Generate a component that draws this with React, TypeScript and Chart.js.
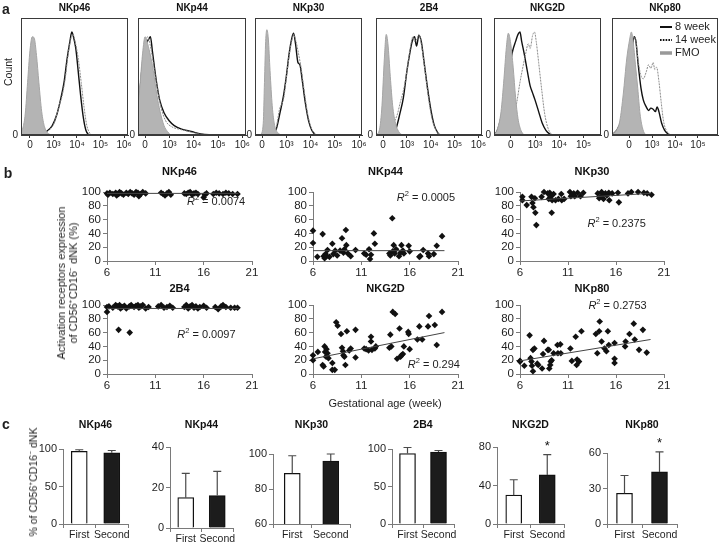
import React, { useEffect, useRef } from 'react';
import { Chart, registerables } from 'chart.js';

Chart.register(...registerables);

const FONT = "'Liberation Sans', Arial, sans-serif";
const TEXT = '#1e1e1e';
const AXIS = '#7a7a7a';

const markers = ['NKp46', 'NKp44', 'NKp30', '2B4', 'NKG2D', 'NKp80'];

// ---------------- a: flow histograms (x in display decades, y in % of mode)
const histTickLabels = ['0', '10³', '10⁴', '10⁵', '10⁶'];
const histLegendOrder = ['8 week', '14 week', 'FMO'];
const histXRange = [[-0.38, 4.17], [-0.29, 4.15], [-0.29, 4.12], [-0.3, 4.15], [-0.69, 3.72], [-0.74, 3.87]];

const fmoNKp46 = [[-0.38, 2], [-0.3, 6], [-0.2, 18], [-0.1, 45], [0, 72], [0.1, 84], [0.18, 83], [0.28, 68], [0.38, 45], [0.5, 20], [0.62, 7], [0.75, 2], [0.9, 0]];
const wk8NKp46 = [[0.5, 0], [0.7, 3], [0.95, 8], [1.15, 18], [1.3, 30], [1.45, 45], [1.58, 65], [1.7, 80], [1.78, 88], [1.85, 84], [1.95, 74], [2.05, 55], [2.15, 35], [2.27, 15], [2.38, 4], [2.5, 0]];
const wk14NKp46 = [[0.55, 0], [0.8, 4], [1.05, 11], [1.25, 26], [1.35, 32], [1.5, 48], [1.62, 68], [1.75, 83], [1.83, 86], [1.92, 80], [2.05, 66], [2.18, 45], [2.3, 24], [2.42, 8], [2.58, 0]];

const fmoNKp44 = [[-0.29, 25], [-0.2, 45], [-0.1, 70], [0, 84], [0.08, 80], [0.2, 70], [0.34, 55], [0.48, 35], [0.62, 20], [0.78, 8], [0.92, 3], [1.05, 0]];
const wk8NKp44 = [[-0.29, 20], [-0.2, 40], [-0.1, 62], [0.05, 78], [0.15, 82], [0.22, 84], [0.3, 72], [0.45, 48], [0.6, 30], [0.78, 19], [1.0, 12], [1.2, 8], [1.5, 5], [1.9, 3], [2.3, 1], [2.8, 0]];
const wk14NKp44 = [[-0.29, 22], [-0.15, 50], [0, 75], [0.1, 84], [0.2, 78], [0.35, 60], [0.5, 40], [0.65, 24], [0.85, 12], [1.1, 7], [1.4, 5], [1.8, 3], [2.2, 1], [2.7, 0]];

const fmoNKp30 = [[-0.05, 0], [0.05, 10], [0.1, 45], [0.15, 80], [0.2, 90], [0.26, 82], [0.33, 55], [0.42, 25], [0.52, 8], [0.65, 2], [0.8, 0]];
const wk8NKp30 = [[0.45, 0], [0.6, 6], [0.75, 20], [0.88, 33], [1.0, 50], [1.12, 70], [1.22, 82], [1.3, 87], [1.38, 78], [1.48, 62], [1.56, 60], [1.65, 48], [1.78, 28], [1.92, 12], [2.05, 4], [2.2, 0]];
const wk14NKp30 = [[0.45, 0], [0.6, 8], [0.72, 22], [0.8, 26], [0.9, 32], [1.0, 48], [1.12, 68], [1.22, 80], [1.3, 86], [1.4, 80], [1.5, 70], [1.62, 56], [1.75, 36], [1.9, 16], [2.05, 5], [2.25, 0]];

const fmo2B4 = [[-0.3, 0], [-0.15, 5], [-0.05, 25], [0.05, 65], [0.13, 86], [0.2, 78], [0.3, 50], [0.4, 25], [0.52, 10], [0.65, 3], [0.8, 0]];
const wk82B4 = [[0.4, 0], [0.55, 6], [0.7, 18], [0.85, 32], [1.0, 55], [1.12, 70], [1.22, 80], [1.32, 84], [1.4, 76], [1.5, 85], [1.6, 80], [1.72, 62], [1.85, 42], [2.0, 22], [2.15, 8], [2.35, 0]];
const wk142B4 = [[0.3, 0], [0.45, 10], [0.6, 18], [0.72, 28], [0.85, 38], [1.0, 55], [1.12, 72], [1.25, 84], [1.32, 80], [1.42, 82], [1.5, 86], [1.6, 78], [1.75, 56], [1.9, 32], [2.05, 14], [2.25, 3], [2.45, 0]];

const fmoNKG2D = [[-0.69, 0], [-0.55, 5], [-0.4, 20], [-0.28, 48], [-0.18, 75], [-0.1, 87], [0, 78], [0.1, 58], [0.2, 32], [0.3, 14], [0.42, 4], [0.55, 0]];
const wk8NKG2D = [[-0.69, 0], [-0.55, 4], [-0.4, 15], [-0.28, 28], [-0.15, 45], [-0.03, 60], [0.08, 72], [0.2, 80], [0.3, 86], [0.38, 88], [0.45, 80], [0.55, 70], [0.68, 55], [0.8, 42], [0.9, 36], [1.0, 30], [1.15, 20], [1.3, 10], [1.45, 4], [1.65, 0]];
const wk14NKG2D = [[-0.2, 0], [0, 6], [0.15, 18], [0.25, 28], [0.38, 45], [0.5, 58], [0.62, 70], [0.72, 78], [0.8, 74], [0.9, 85], [0.98, 88], [1.05, 80], [1.15, 62], [1.28, 38], [1.4, 18], [1.55, 5], [1.7, 0]];

const fmoNKp80 = [[-0.74, 0], [-0.55, 4], [-0.4, 12], [-0.25, 35], [-0.1, 65], [0.03, 82], [0.1, 88], [0.18, 80], [0.28, 60], [0.38, 40], [0.48, 18], [0.6, 5], [0.72, 0]];
const wk8NKp80 = [[-0.74, 0], [-0.5, 5], [-0.3, 15], [-0.15, 28], [0, 50], [0.12, 70], [0.22, 84], [0.3, 80], [0.4, 60], [0.52, 40], [0.62, 30], [0.75, 24], [0.85, 21], [0.95, 23], [1.05, 22], [1.15, 20], [1.22, 24], [1.3, 20], [1.42, 10], [1.55, 4], [1.75, 0]];
const wk14NKp80 = [[-0.6, 0], [-0.4, 6], [-0.2, 20], [-0.05, 45], [0.1, 72], [0.2, 84], [0.28, 82], [0.38, 66], [0.5, 52], [0.62, 48], [0.75, 54], [0.85, 60], [0.95, 57], [1.05, 62], [1.12, 56], [1.2, 58], [1.3, 46], [1.4, 28], [1.5, 12], [1.62, 4], [1.8, 0]];

const fmoCurves = [fmoNKp46, fmoNKp44, fmoNKp30, fmo2B4, fmoNKG2D, fmoNKp80];
const wk8Curves = [wk8NKp46, wk8NKp44, wk8NKp30, wk82B4, wk8NKG2D, wk8NKp80];
const wk14Curves = [wk14NKp46, wk14NKp44, wk14NKp30, wk142B4, wk14NKG2D, wk14NKp80];

// ---------------- b: expression vs gestational age ([week, %])
const scatterNKp46 = [[6.0, 98], [6.1, 96], [6.3, 99], [6.6, 97], [6.9, 99], [7.0, 95], [7.2, 97], [7.3, 100], [7.5, 98], [7.7, 96], [8.0, 99], [8.2, 97], [8.4, 100], [8.6, 98], [8.8, 96], [9.0, 100], [9.2, 99], [9.3, 94], [9.5, 97], [9.7, 100], [10.0, 98], [11.6, 99], [11.8, 97], [12.0, 95], [12.2, 98], [12.4, 100], [12.6, 96], [14.0, 98], [14.2, 97], [14.4, 99], [14.6, 100], [14.8, 96], [15.0, 98], [15.2, 99], [15.4, 97], [16.0, 92], [16.1, 96], [16.3, 98], [17.0, 97], [17.3, 99], [17.6, 98], [18.0, 97], [18.3, 99], [18.6, 98], [19.0, 97], [19.5, 97]];
const scatterNKp44 = [[6.0, 44], [6.0, 26], [6.45, 6], [7.0, 39], [7.1, 7], [7.2, 4], [7.3, 10], [7.4, 7], [7.5, 16], [7.7, 6], [8.0, 25], [8.1, 10], [8.3, 15], [8.5, 8], [8.8, 15], [9.0, 33], [9.15, 12], [9.25, 17], [9.4, 45], [9.45, 23], [9.6, 11], [9.9, 7], [10.4, 16], [11.3, 11], [11.5, 9], [11.8, 17], [11.9, 3], [12.0, 9], [12.3, 40], [12.4, 25], [13.9, 11], [14.0, 8], [14.2, 62], [14.25, 14], [14.35, 23], [14.45, 11], [14.6, 17], [14.9, 7], [15.05, 12], [15.15, 23], [15.3, 15], [15.4, 11], [15.9, 22], [16.0, 14], [17.0, 6], [17.1, 7], [17.4, 16], [17.9, 11], [18.0, 7], [18.5, 10], [18.8, 22], [19.35, 36]];
const scatterNKp30 = [[6.25, 93], [6.25, 88], [6.7, 81], [7.2, 93], [7.3, 84], [7.4, 78], [7.55, 91], [7.6, 70], [7.7, 52], [8.25, 93], [8.5, 100], [8.9, 98], [9.0, 90], [9.1, 99], [9.2, 93], [9.3, 70], [9.35, 88], [9.5, 97], [9.7, 88], [10.0, 90], [10.3, 97], [10.35, 88], [10.6, 90], [11.2, 100], [11.3, 94], [11.6, 98], [11.7, 94], [12.0, 99], [12.3, 94], [12.6, 99], [14.1, 98], [14.25, 91], [14.5, 100], [14.55, 95], [14.7, 90], [14.9, 98], [15.05, 95], [15.25, 99], [15.3, 88], [15.6, 98], [16.2, 99], [16.3, 85], [17.25, 98], [17.6, 100], [18.3, 100], [18.9, 99], [19.25, 98], [19.7, 96]];
const scatter2B4 = [[6.0, 90], [6.0, 97], [6.2, 98], [6.6, 96], [6.9, 100], [7.1, 98], [7.2, 64], [7.3, 100], [7.4, 95], [7.6, 97], [7.8, 99], [8.0, 95], [8.3, 98], [8.35, 60], [8.5, 100], [8.8, 97], [9.0, 99], [9.2, 100], [9.3, 96], [9.5, 98], [9.7, 100], [10.0, 95], [10.3, 97], [11.3, 98], [11.6, 100], [11.9, 96], [12.2, 97], [12.5, 99], [12.8, 96], [14.0, 97], [14.2, 100], [14.4, 95], [14.6, 98], [14.8, 100], [15.0, 96], [15.2, 98], [15.4, 95], [15.6, 97], [16.0, 99], [16.3, 96], [17.2, 97], [17.5, 94], [17.8, 98], [18.0, 100], [18.3, 97], [18.8, 96], [19.2, 96], [19.5, 96]];
const scatterNKG2D = [[6.0, 20], [6.0, 27], [6.5, 32], [7.0, 13], [7.1, 11], [7.2, 40], [7.25, 32], [7.35, 25], [7.4, 36], [7.5, 30], [7.6, 23], [8.0, 16], [8.0, 6], [8.25, 6], [8.4, 75], [8.55, 70], [8.9, 58], [9.0, 38], [9.1, 33], [9.15, 27], [9.25, 25], [9.35, 13], [9.5, 62], [9.75, 34], [9.9, 37], [10.4, 64], [10.4, 24], [11.3, 37], [11.5, 36], [11.75, 34], [12.0, 54], [12.0, 47], [12.1, 35], [12.4, 37], [12.5, 40], [13.9, 38], [14.0, 57], [14.1, 40], [14.25, 90], [14.5, 87], [14.7, 22], [14.95, 66], [15.05, 25], [15.15, 27], [15.3, 29], [15.4, 40], [15.85, 61], [15.9, 58], [16.0, 36], [16.8, 50], [17.0, 69], [17.3, 50], [17.9, 69], [18.0, 84], [18.6, 71], [18.8, 42], [19.35, 90]];
const scatterNKp80 = [[6.0, 19], [6.0, 18], [6.45, 12], [7.0, 56], [7.1, 23], [7.2, 18], [7.25, 12], [7.35, 4], [7.35, 35], [7.5, 37], [7.8, 15], [7.9, 13], [8.3, 8], [8.4, 29], [8.5, 48], [8.9, 35], [9.0, 35], [9.05, 8], [9.15, 13], [9.2, 18], [9.3, 20], [9.5, 30], [9.9, 42], [9.95, 30], [10.2, 43], [10.25, 30], [11.25, 37], [11.4, 19], [11.8, 54], [11.9, 13], [11.95, 21], [12.15, 18], [12.4, 62], [13.9, 58], [14.05, 30], [14.25, 62], [14.3, 76], [14.5, 47], [14.8, 37], [15.0, 33], [15.15, 62], [15.25, 42], [15.85, 45], [15.85, 22], [15.85, 16], [16.95, 40], [17.0, 47], [17.4, 58], [17.85, 73], [17.95, 50], [18.4, 35], [18.8, 64], [19.2, 31]];
const scatterSets = [scatterNKp46, scatterNKp44, scatterNKp30, scatter2B4, scatterNKG2D, scatterNKp80];

const fitWeeks = [6, 19.6];
const fitStart = [98, 15, 87, 95, 22, 19];
const fitEnd = [98, 15, 98, 95, 60, 50];
const r2Values = ['0.0074', '0.0005', '0.2375', '0.0097', '0.294', '0.2753'];
const r2Anchor = [[20.3, 85], [20.7, 91], [19.1, 54], [19.3, 56], [21.2, 13], [19.2, 98]];

// ---------------- c: trimester comparison
const groups = ['First', 'Second'];
const meanFirst = [97, 15, 89, 94, 30, 26];
const meanSecond = [95, 16, 96, 96, 51, 44];
const sdFirst = [2, 12, 10, 8, 16, 15];
const sdSecond = [3, 12, 4, 2, 21, 17];
const starSecond = [false, false, false, false, true, true];
const barYMin = [0, 0, 60, 0, 0, 0];
const barYMax = [100, 40, 100, 100, 80, 60];
const barStep = [50, 20, 20, 50, 40, 30];

// ---------------- layout (page pixels)
const histBoxes = [[21, 128], [138, 246], [255, 362], [376, 482], [494, 601], [612, 718]];
const scatterCols = [[107, 252], [313, 458], [520, 664]];
const scatterRows = [[192, 261], [305, 374]];
const scatterTitleY = [172, 289];
const barBoxes = [[63, 449, 128, 524], [170, 447, 233, 528], [273, 454, 350, 524], [392, 449, 454, 524], [497, 447, 564, 524], [607, 453, 677, 524]];

type Frame = { x: number; y: number; w: number; h: number };

function frameOf(l: number, t: number, r: number, b: number, ml: number, mt: number, mr: number, mb: number): Frame {
  return { x: l - ml, y: t - mt, w: r - l + ml + mr, h: b - t + mt + mb };
}

function titlePlugin(text: string, relY: number, size: number) {
  return {
    id: 'ptitle',
    afterDraw(chart: any) {
      const { ctx, chartArea: a } = chart;
      ctx.save();
      ctx.font = `bold ${size}px ${FONT}`;
      ctx.fillStyle = '#111';
      ctx.textAlign = 'center';
      ctx.textBaseline = 'middle';
      ctx.fillText(text, (a.left + a.right) / 2, relY);
      ctx.restore();
    },
  };
}

const boxPlugin = {
  id: 'pbox',
  afterDatasetsDraw(chart: any) {
    const { ctx, chartArea: a } = chart;
    ctx.save();
    ctx.strokeStyle = '#3a3a3a';
    ctx.lineWidth = 1;
    ctx.strokeRect(Math.round(a.left) + 0.5, Math.round(a.top) + 0.5, Math.round(a.right - a.left) - 1, Math.round(a.bottom - a.top) - 1);
    ctx.restore();
  },
};

const legendPlugin = {
  id: 'hlegend',
  afterDraw(chart: any) {
    const { ctx, chartArea: a } = chart;
    histLegendOrder.forEach((lbl, i) => {
      const ds = chart.data.datasets.find((d: any) => d.label === lbl);
      const y = a.top + 9 + i * 13;
      const x0 = a.left + 48;
      ctx.save();
      ctx.strokeStyle = lbl === 'FMO' ? '#999' : '#111';
      ctx.lineWidth = lbl === 'FMO' ? 3.5 : 2;
      ctx.setLineDash(lbl === '14 week' ? [1.6, 1.2] : []);
      ctx.beginPath();
      ctx.moveTo(x0, y);
      ctx.lineTo(x0 + 12, y);
      ctx.stroke();
      ctx.setLineDash([]);
      ctx.fillStyle = TEXT;
      ctx.font = `11px ${FONT}`;
      ctx.textBaseline = 'middle';
      ctx.textAlign = 'left';
      ctx.fillText(ds.label, x0 + 15, y);
      ctx.restore();
    });
  },
};

function r2Plugin(value: string, at: number[]) {
  return {
    id: 'pr2',
    afterDraw(chart: any) {
      const { ctx, scales } = chart;
      const x = scales.x.getPixelForValue(at[0]);
      const y = scales.y.getPixelForValue(at[1]);
      const rest = ' = ' + value;
      ctx.save();
      ctx.fillStyle = TEXT;
      ctx.textBaseline = 'middle';
      ctx.textAlign = 'left';
      ctx.font = `11px ${FONT}`;
      const wRest = ctx.measureText(rest).width;
      ctx.font = `7.5px ${FONT}`;
      const wSup = ctx.measureText('2').width;
      ctx.font = `italic 11px ${FONT}`;
      const wR = ctx.measureText('R').width;
      let cx = x - wRest - wSup - wR;
      ctx.fillText('R', cx, y);
      cx += wR;
      ctx.font = `7.5px ${FONT}`;
      ctx.fillText('2', cx, y - 4);
      cx += wSup;
      ctx.font = `11px ${FONT}`;
      ctx.fillText(rest, cx, y);
      ctx.restore();
    },
  };
}

function errPlugin(errs: number[], star: boolean) {
  return {
    id: 'perr',
    afterDatasetsDraw(chart: any) {
      const { ctx, scales } = chart;
      const ds = chart.data.datasets[0];
      const meta = chart.getDatasetMeta(0);
      meta.data.forEach((el: any, i: number) => {
        const v = ds.data[i] as number;
        const yTop = scales.y.getPixelForValue(v + errs[i]);
        ctx.save();
        ctx.strokeStyle = '#4a4a4a';
        ctx.lineWidth = 1.2;
        ctx.beginPath();
        ctx.moveTo(el.x, el.y);
        ctx.lineTo(el.x, yTop);
        ctx.moveTo(el.x - 4, yTop);
        ctx.lineTo(el.x + 4, yTop);
        ctx.stroke();
        if (star && i === 1) {
          ctx.fillStyle = '#111';
          ctx.font = `13px ${FONT}`;
          ctx.textAlign = 'center';
          ctx.textBaseline = 'middle';
          ctx.fillText('*', el.x, yTop - 8);
        }
        ctx.restore();
      });
    },
  };
}

const toXY = (pts: number[][]) => pts.map((p) => ({ x: p[0], y: p[1] }));

type Spec = { key: string; frame: Frame; make: () => any };

function histSpec(i: number): Spec {
  const [l, r] = histBoxes[i];
  const ml = 14, mt = 18, mr = i === 5 ? 2 : 6, mb = 18;
  const frame = frameOf(l, 18, r, 135, ml, mt, mr, mb);
  const make = () => ({
    type: 'line',
    data: {
      datasets: [
        { label: 'FMO', data: toXY(fmoCurves[i]), borderColor: '#a5a5a5', backgroundColor: '#b4b4b4', fill: 'origin', borderWidth: 1, pointRadius: 0, cubicInterpolationMode: 'monotone' },
        { label: '14 week', data: toXY(wk14Curves[i]), borderColor: '#8a8a8a', borderWidth: 1, borderDash: [2, 1], pointRadius: 0, fill: false, cubicInterpolationMode: 'monotone' },
        { label: '8 week', data: toXY(wk8Curves[i]), borderColor: '#111', borderWidth: 1.4, pointRadius: 0, fill: false, cubicInterpolationMode: 'monotone' },
      ],
    },
    options: {
      animation: false,
      responsive: false,
      devicePixelRatio: 1,
      layout: { padding: { left: 0, top: mt, right: mr, bottom: 0 } },
      plugins: { legend: { display: false }, tooltip: { enabled: false } },
      scales: {
        x: {
          type: 'linear',
          min: histXRange[i][0],
          max: histXRange[i][1],
          afterFit: (s: any) => { s.height = mb; },
          ticks: { stepSize: 1, includeBounds: false, autoSkip: false, maxRotation: 0, padding: 1, color: TEXT, font: { family: FONT, size: 10 }, callback: (v: any) => histTickLabels[Math.round(v)] ?? '' },
          grid: { drawOnChartArea: false, tickLength: 3, color: '#333' },
          border: { color: '#3a3a3a' },
        },
        y: {
          min: 0,
          max: 100,
          afterFit: (s: any) => { s.width = ml; },
          ticks: { stepSize: 100, autoSkip: false, padding: 3, color: TEXT, font: { family: FONT, size: 10 }, callback: (v: any) => (v === 0 ? '0' : '') },
          grid: { drawOnChartArea: false, drawTicks: false },
          border: { color: '#3a3a3a' },
        },
      },
    },
    plugins: [titlePlugin(markers[i], 8, 10), boxPlugin, ...(i === 5 ? [legendPlugin] : [])],
  });
  return { key: 'h' + i, frame, make };
}

function scatterSpec(i: number): Spec {
  const [l, r] = scatterCols[i % 3];
  const row = Math.floor(i / 3);
  const [t, b] = scatterRows[row];
  const ml = 30, mt = 30, mr = 10, mb = 16;
  const frame = frameOf(l, t, r, b, ml, mt, mr, mb);
  const make = () => ({
    type: 'scatter',
    data: {
      datasets: [
        { label: 'fit', data: [{ x: fitWeeks[0], y: fitStart[i] }, { x: fitWeeks[1], y: fitEnd[i] }], showLine: true, borderColor: '#444', borderWidth: 1, pointRadius: 0 },
        { label: markers[i], data: toXY(scatterSets[i]), pointStyle: 'rectRot', pointRadius: 3.3, backgroundColor: '#111', borderColor: '#111', borderWidth: 0 },
      ],
    },
    options: {
      animation: false,
      responsive: false,
      devicePixelRatio: 1,
      clip: false,
      layout: { padding: { left: 0, top: mt, right: mr, bottom: 0 } },
      plugins: { legend: { display: false }, tooltip: { enabled: false } },
      scales: {
        x: {
          type: 'linear',
          min: 6,
          max: 21,
          afterFit: (s: any) => { s.height = mb; },
          ticks: { stepSize: 5, autoSkip: false, maxRotation: 0, padding: 1, color: TEXT, font: { family: FONT, size: 11.5 } },
          grid: { drawOnChartArea: false, tickLength: 4, color: AXIS },
          border: { color: AXIS },
        },
        y: {
          min: 0,
          max: 100,
          afterFit: (s: any) => { s.width = ml; },
          ticks: { stepSize: 20, autoSkip: false, padding: 2, color: TEXT, font: { family: FONT, size: 11.5 } },
          grid: { drawOnChartArea: false, tickLength: 4, color: AXIS },
          border: { color: AXIS },
        },
      },
    },
    plugins: [titlePlugin(markers[i], scatterTitleY[row] - frame.y, 11), r2Plugin(r2Values[i], r2Anchor[i])],
  });
  return { key: 's' + i, frame, make };
}

function barSpec(i: number): Spec {
  const [l, t, r, b] = barBoxes[i];
  const ml = 28, mt = t - 412, mr = 6, mb = 544 - b;
  const frame = frameOf(l, t, r, b, ml, mt, mr, mb);
  const make = () => ({
    type: 'bar',
    data: {
      labels: groups,
      datasets: [
        { label: markers[i], data: [meanFirst[i], meanSecond[i]], backgroundColor: ['#ffffff', '#1c1c1c'], borderColor: '#111', borderWidth: 1.3, barThickness: 16 },
      ],
    },
    options: {
      animation: false,
      responsive: false,
      devicePixelRatio: 1,
      layout: { padding: { left: 0, top: mt, right: mr, bottom: 0 } },
      plugins: { legend: { display: false }, tooltip: { enabled: false } },
      scales: {
        x: {
          afterFit: (s: any) => { s.height = mb; },
          ticks: { autoSkip: false, maxRotation: 0, padding: 1, color: TEXT, font: { family: FONT, size: 10.5 } },
          grid: { drawOnChartArea: false, tickLength: 4, color: AXIS, offset: true },
          border: { color: AXIS },
        },
        y: {
          min: barYMin[i],
          max: barYMax[i],
          afterFit: (s: any) => { s.width = ml; },
          ticks: { stepSize: barStep[i], autoSkip: false, padding: 2, color: TEXT, font: { family: FONT, size: 11 } },
          grid: { drawOnChartArea: false, tickLength: 4, color: AXIS },
          border: { color: AXIS },
        },
      },
    },
    plugins: [titlePlugin(markers[i], 425 - frame.y, 10.5), errPlugin([sdFirst[i], sdSecond[i]], starSecond[i])],
  });
  return { key: 'c' + i, frame, make };
}

function ChartPanel({ spec }: { spec: Spec }) {
  const ref = useRef<HTMLCanvasElement>(null);
  useEffect(() => {
    const chart = new Chart(ref.current as HTMLCanvasElement, spec.make());
    return () => chart.destroy();
  }, [spec]);
  const f = spec.frame;
  return (
    <canvas
      ref={ref}
      width={f.w}
      height={f.h}
      style={{ position: 'absolute', left: f.x, top: f.y, width: f.w, height: f.h }}
    />
  );
}

const specs: Spec[] = [
  ...markers.map((_, i) => histSpec(i)),
  ...markers.map((_, i) => scatterSpec(i)),
  ...markers.map((_, i) => barSpec(i)),
];

const label = (text: any, x: number, y: number, size: number, extra: any = {}) => (
  <div
    style={{
      position: 'absolute',
      left: x,
      top: y,
      transform: `translate(-50%, -50%)${extra.rotate ? ' rotate(-90deg)' : ''}`,
      whiteSpace: 'nowrap',
      fontSize: size,
      lineHeight: extra.lh ? `${extra.lh}px` : 'normal',
      fontWeight: extra.bold ? 'bold' : 'normal',
      textAlign: 'center',
      color: TEXT,
    }}
  >
    {text}
  </div>
);

export default function App() {
  return (
    <div style={{ position: 'fixed', left: 0, top: 0, width: 720, height: 544, background: '#fff', fontFamily: FONT, overflow: 'hidden' }}>
      {specs.map((s) => (
        <ChartPanel key={s.key} spec={s} />
      ))}
      {label('a', 6, 9, 14, { bold: true })}
      {label('b', 8, 173, 14, { bold: true })}
      {label('c', 6, 424, 14, { bold: true })}
      {label('Count', 8, 72, 10.5, { rotate: true })}
      {label(<>Activation receptors expression<br />of CD56⁺CD16⁻ dNK (%)</>, 67, 283, 11, { rotate: true, lh: 12 })}
      {label('Gestational age (week)', 385, 403, 11)}
      {label('% of CD56⁺CD16⁻ dNK', 33, 482, 10.5, { rotate: true })}
    </div>
  );
}
